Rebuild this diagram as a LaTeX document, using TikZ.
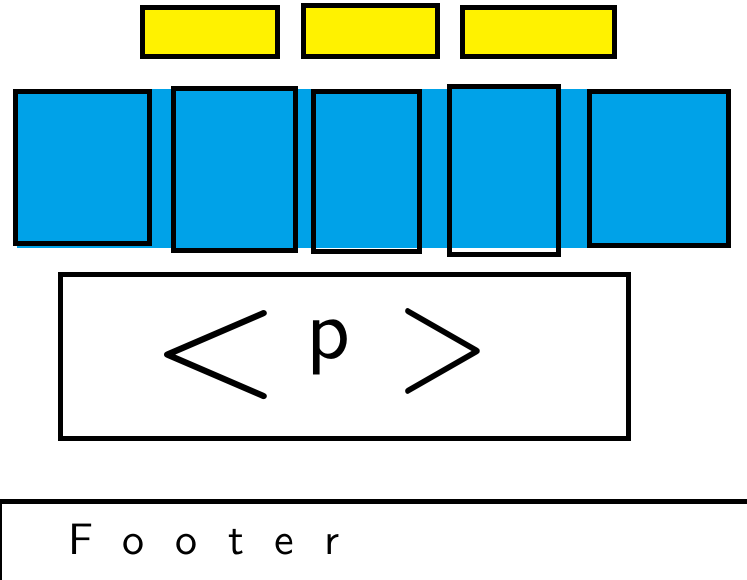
\documentclass[tikz,border=0pt]{standalone}
\usepackage{fontspec}
\usepackage{tikz}
\usetikzlibrary{positioning}

\newfontfamily\scrawlfont{lmsans10-regular.otf}
\newfontfamily\footfont{lmsans10-regular.otf}[LetterSpace=69]

\definecolor{paintblue}{RGB}{0,162,232}
\definecolor{paintyellow}{RGB}{255,242,0}

\begin{document}
\begin{tikzpicture}[x=1pt, y=-1pt]
	\tikzstyle{slot} = [draw, line width=5pt, fill=paintyellow, inner sep=0pt]
	\tikzstyle{panel} = [draw, line width=5pt, inner sep=0pt]
	\tikzstyle{scrawl} = [inner sep=0pt, anchor=base west]
	\useasboundingbox (0,0) rectangle (747,580);
	% blue strip behind the panels
	\fill[paintblue] (17,89) rectangle (727,248);
	\begin{scope}
	  \path
	  node[slot, minimum width=135pt, minimum height=49pt] (nav1) at (210,32) {}
	  node[slot, minimum width=134pt, minimum height=51pt] (nav2) at (370.5,31) {}
	  node[slot, minimum width=152pt, minimum height=49pt] (nav3) at (538.5,32) {}
	  node[panel, minimum width=134pt, minimum height=152pt] (A) at (82.5,167.5) {}
	  node[panel, minimum width=122pt, minimum height=162pt] (B) at (234.5,169.5) {}
	  node[panel, minimum width=106pt, minimum height=160pt] (C) at (366.5,171.5) {}
	  node[panel, minimum width=109pt, minimum height=168pt] (D) at (504,170.5) {}
	  node[panel, minimum width=139pt, minimum height=154pt] (E) at (659,168.5) {}
	  node[panel, minimum width=568pt, minimum height=164pt] (main) at (344.5,356.5) {}
	  node[scrawl, font=\scrawlfont\fontsize{85}{85}\selectfont] (ptag) at (150,348)
	    {\raisebox{-46pt}{\resizebox{131pt}{83pt}{<}}\hspace{25pt}\raisebox{-10pt}{p}\hspace{45pt}\raisebox{-40pt}{\resizebox{95pt}{80pt}{>}}}
	  node[scrawl, font=\footfont\fontsize{44}{44}\selectfont] (foot) at (68,554) {Footer}
	  ;
	\end{scope}
	% footer edge
	\draw[line width=5pt] (0,501.5) -- (747,501.5);
	\draw[line width=2pt] (1,501.5) -- (1,580);
\end{tikzpicture}
\end{document}
